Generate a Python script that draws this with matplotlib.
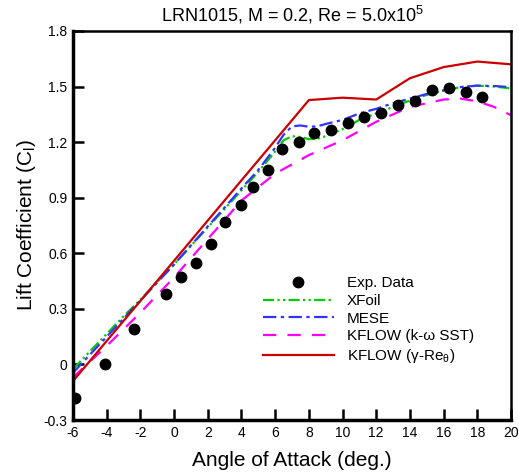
import numpy as np
import matplotlib.pyplot as plt

plt.rcParams['font.family'] = ['Liberation Sans', 'DejaVu Sans']
plt.rcParams['mathtext.fontset'] = 'custom'
plt.rcParams['mathtext.rm'] = 'Liberation Sans'
plt.rcParams['mathtext.it'] = 'Liberation Sans'
plt.rcParams['axes.unicode_minus'] = False

# experimental data
exp_alpha = [-5.9, -4.1, -2.4, -0.5, 0.4, 1.3, 2.2, 3.0, 4.0, 4.7, 5.6, 6.4,
             7.4, 8.3, 9.3, 10.3, 11.3, 12.3, 13.3, 14.3, 15.3, 16.3, 17.3, 18.25]
exp_cl = [-0.18, 0.0, 0.19, 0.38, 0.47, 0.55, 0.65, 0.77, 0.86, 0.96, 1.05, 1.165,
          1.2, 1.25, 1.265, 1.305, 1.335, 1.355, 1.4, 1.42, 1.48, 1.49, 1.468, 1.445]

# XFoil
xf_alpha = [-6, -5, -4, -3, -2, -1, 0, 1, 2, 3, 4, 5, 6, 6.5, 7, 7.5, 8, 8.5, 9,
            10, 11, 12, 13, 14, 15, 16, 17, 18, 19, 20]
xf_cl = [-0.025, 0.07, 0.165, 0.26, 0.35, 0.445, 0.54, 0.64, 0.74, 0.84, 0.94,
         1.04, 1.15, 1.21, 1.232, 1.228, 1.216, 1.218, 1.232, 1.27, 1.32, 1.355,
         1.39, 1.425, 1.455, 1.478, 1.497, 1.505, 1.5, 1.49]

# MESE
me_alpha = [-6, -4, -2, 0, 2, 4, 5, 6, 6.5, 7, 7.5, 8, 8.5, 9, 10, 11, 12, 13,
            14, 15, 16, 17, 18, 19, 20]
me_cl = [-0.045, 0.15, 0.345, 0.54, 0.745, 0.95, 1.05, 1.17, 1.24, 1.285, 1.29,
         1.283, 1.285, 1.298, 1.32, 1.355, 1.38, 1.41, 1.435, 1.46, 1.48, 1.497,
         1.505, 1.503, 1.497]

# KFLOW k-omega SST
sst_alpha = [-6, -4, -2, 0, 2, 4, 6, 8, 10, 12, 14, 16, 17, 18, 19, 20]
sst_cl = [-0.07, 0.1, 0.28, 0.47, 0.677, 0.885, 1.03, 1.13, 1.21, 1.31, 1.39,
          1.43, 1.435, 1.42, 1.39, 1.345]

# KFLOW gamma-Re_theta
gr_alpha = [-6, -4, -2, 0, 2, 4, 6, 8, 10, 12, 14, 16, 18, 20]
gr_cl = [-0.09, 0.127, 0.343, 0.56, 0.777, 0.994, 1.21, 1.427, 1.44, 1.43,
         1.545, 1.605, 1.635, 1.62]

fig = plt.figure(figsize=(5.19, 4.73), dpi=100)
ax = fig.add_axes([0.1407, 0.112, 0.8439, 0.8225])

ax.plot(exp_alpha, exp_cl, 'o', color='black', markersize=7.5, label='Exp. Data', zorder=5)
ax.plot(xf_alpha, xf_cl, color='#00cc00', lw=1.6, dashes=[5, 1.5, 1, 1.5, 1, 1.5],
        label='XFoil')
ax.plot(me_alpha, me_cl, color='#3333ff', lw=1.6, dashes=[6, 2, 1.5, 2],
        label='MESE')
ax.plot(sst_alpha, sst_cl, color='#ff00ff', lw=1.6, dashes=[6, 5],
        label='KFLOW (k-\u03c9 SST)')
ax.plot(gr_alpha, gr_cl, color='#cc0000', lw=1.6,
        label='KFLOW (\u03b3-Re$_\u03b8$)')

ax.set_xlim(-6, 20)
ax.set_ylim(-0.3, 1.8)
ax.set_xticks(np.arange(-6, 21, 2))
ax.set_yticks([-0.3, 0, 0.3, 0.6, 0.9, 1.2, 1.5, 1.8])
ax.set_yticklabels(['-0.3', '0', '0.3', '0.6', '0.9', '1.2', '1.5', '1.8'])
ax.tick_params(direction='in', length=8, width=1.8, labelsize=10, pad=4)
for side in ['left', 'bottom']:
    ax.spines[side].set_linewidth(2.5)
for side in ['top', 'right']:
    ax.spines[side].set_linewidth(1.8)

ax.set_xlabel('Angle of Attack (deg.)', fontsize=15, labelpad=8)
ax.set_ylabel('Lift Coefficient (C$_\\mathregular{l}$)', fontsize=15, labelpad=4)
ax.set_title('LRN1015, M = 0.2, Re = 5.0x10$^\\mathregular{5}$', fontsize=13, pad=7)

ax.legend(loc='upper left', bbox_to_anchor=(0.419, 0.385), frameon=False,
          fontsize=11, handlelength=4.65, handletextpad=0.85, labelspacing=0.24,
          borderaxespad=0)

fig.savefig('out.png', dpi=100)
